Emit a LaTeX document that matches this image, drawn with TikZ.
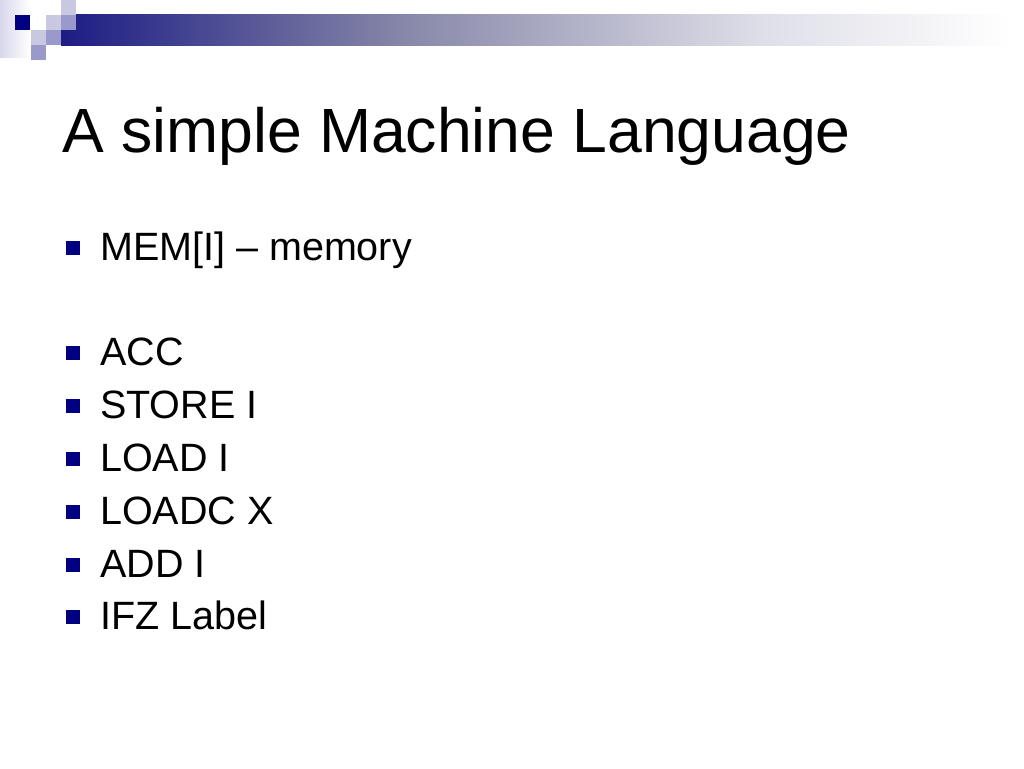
\documentclass[tikz,border=0pt]{standalone}
\usepackage{fontspec}
\setmainfont{Liberation Sans}
\definecolor{navy}{RGB}{0,0,128}
\definecolor{sqlight}{RGB}{200,200,224}
\definecolor{sqmed}{RGB}{153,153,204}
\definecolor{barA}{RGB}{28,28,132}
\definecolor{barB}{RGB}{134,134,168}
\definecolor{barC}{RGB}{222,222,232}
\definecolor{lav}{RGB}{215,215,235}
\tikzset{
  titletext/.style={anchor=base west, inner sep=0pt, font=\fontsize{62.5}{62.5}\selectfont},
  itemtext/.style={anchor=base west, inner sep=0pt, font=\fontsize{39.5}{39.5}\selectfont},
  bulletsq/.style={anchor=south west, fill=navy, draw=none, inner sep=0pt, minimum size=14pt},
  tile/.style={draw=none, inner sep=0pt, minimum size=15pt, anchor=north west}
}
\begin{document}
\begin{tikzpicture}[x=1pt,y=1pt]
\useasboundingbox (0,0) rectangle (1024,-768);
\fill[white] (0,0) rectangle (1024,-768);
% left faint strip
\shade[left color=lav, right color=white, draw=none] (0,0) rectangle (30,-58);
% gradient bar
\shade[left color=barA, right color=barB, draw=none] (61,-15) rectangle (400,-45.5);
\shade[left color=barB, right color=barC, draw=none] (400,-15) rectangle (760,-45.5);
\shade[left color=barC, right color=white, draw=none] (760,-15) rectangle (1012,-45.5);
% tiles
\node[tile, fill=navy] (t1) at (15,-15) {};
\node[tile, fill=sqlight] (t2) at (46,-15) {};
\node[tile, fill=sqmed] (t3) at (61,-15) {};
\node[tile, fill=sqlight] (t4) at (61,0) {};
\node[tile, fill=sqlight] (t5) at (31,-30) {};
\node[tile, fill=sqmed] (t6) at (46,-30) {};
\node[tile, fill=sqmed] (t7) at (31,-45) {};
% title
\node[titletext] (title) at (62,-152) {A simple Machine Language};
% bullets
\node[bulletsq] (b1) at (66,-255.5) {};
\node[itemtext] (i1) at (100,-260.5) {MEM[I] – memory};
\node[bulletsq] (b2) at (66,-360) {};
\node[itemtext] (i2) at (100,-365) {ACC};
\node[bulletsq] (b3) at (66,-413) {};
\node[itemtext] (i3) at (100,-418) {STORE I};
\node[bulletsq] (b4) at (66,-466) {};
\node[itemtext] (i4) at (100,-471) {LOAD I};
\node[bulletsq] (b5) at (66,-519) {};
\node[itemtext] (i5) at (100,-524) {LOADC X};
\node[bulletsq] (b6) at (66,-572) {};
\node[itemtext] (i6) at (100,-577) {ADD I};
\node[bulletsq] (b7) at (66,-624.5) {};
\node[itemtext] (i7) at (100,-629.5) {IFZ Label};
\end{tikzpicture}
\end{document}
